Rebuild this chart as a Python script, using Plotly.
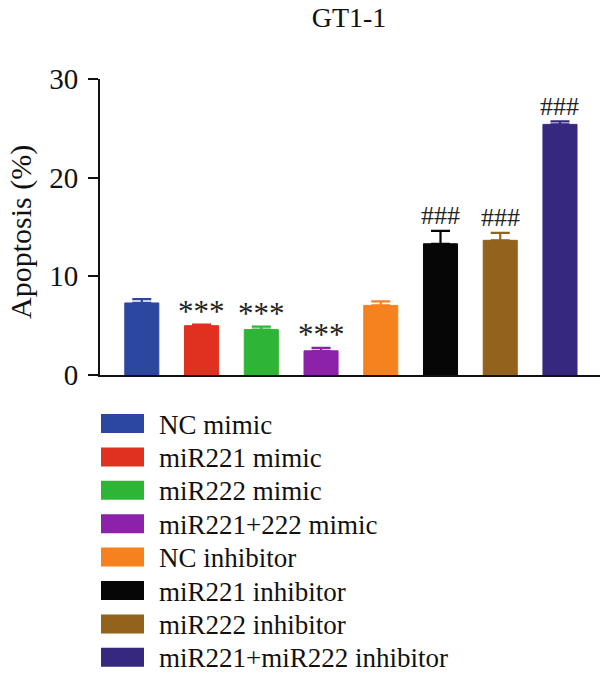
import plotly.graph_objects as go

categories = ["NC mimic", "miR221 mimic", "miR222 mimic", "miR221+222 mimic",
              "NC inhibitor", "miR221 inhibitor", "miR222 inhibitor", "miR221+miR222 inhibitor"]
values = [7.3, 5.0, 4.6, 2.45, 7.05, 13.3, 13.65, 25.4]
errors = [0.4, 0.12, 0.3, 0.3, 0.42, 1.3, 0.75, 0.3]
marks = ["", "***", "***", "***", "", "###", "###", "###"]
colors = ["#2B47A0", "#E0301F", "#2FB535", "#8B22A9", "#F5821F", "#060606", "#93631D", "#37287F"]
y_ticks = [0, 10, 20, 30]

FONT = "Liberation Serif"
W, H = 600, 675
L, R, T, B = 100, 0, 79, 300
pw, ph = W - L - R, H - T - B

def px2x(px):
    return (px - L) / pw

def py2y(py):
    return (H - B - py) / ph

fig = go.Figure()
xs = list(range(len(categories)))
fig.add_trace(go.Bar(
    x=xs, y=values, width=0.57,
    marker=dict(color=colors, line=dict(color=colors, width=1)),
    showlegend=False,
))
for i in xs:
    fig.add_trace(go.Scatter(
        x=[i], y=[values[i]], mode="markers", marker=dict(size=0.1, color="rgba(0,0,0,0)"),
        error_y=dict(type="data", symmetric=False, array=[errors[i]], arrayminus=[0],
                     color=colors[i], thickness=2.2, width=9.5),
        showlegend=False, hoverinfo="skip",
    ))

for i in xs:
    if marks[i]:
        star = marks[i].startswith("*")
        fig.add_annotation(x=i, y=values[i] + errors[i], text=marks[i], showarrow=False,
                           yanchor="middle", yshift=13 if star else 15,
                           font=dict(family=FONT, size=31 if star else 26, color="#222"))

# legend drawn manually
row0, step = 423.5, 33.4
for i, (name, c) in enumerate(zip(categories, colors)):
    cy = row0 + i * step
    fig.add_shape(type="rect", xref="paper", yref="paper",
                  x0=px2x(101), x1=px2x(144), y0=py2y(cy - 9.5), y1=py2y(cy + 9.5),
                  fillcolor=c, line=dict(width=0))
    fig.add_annotation(xref="paper", yref="paper", x=px2x(157), y=py2y(cy + 1),
                       text=name, showarrow=False, xanchor="left", yanchor="middle",
                       font=dict(family=FONT, size=27, color="#111"))

# y-axis title
fig.add_annotation(xref="paper", yref="paper", x=px2x(21), y=py2y(232), text="Apoptosis (%)",
                   textangle=-90, showarrow=False, xanchor="center", yanchor="middle",
                   font=dict(family=FONT, size=30, color="#111"))

fig.update_layout(
    width=W, height=H, margin=dict(l=L, r=R, t=T, b=B),
    paper_bgcolor="white", plot_bgcolor="white",
    title=dict(text="GT1-1", x=349 / W, xanchor="center", y=1 - 17 / H, yanchor="middle",
               font=dict(family=FONT, size=28, color="#111")),
    xaxis=dict(range=[-0.70, 7.67], showticklabels=False, ticks="", showgrid=False, zeroline=False,
               showline=True, linecolor="#111", linewidth=2),
    yaxis=dict(range=[0, 30], tickvals=y_ticks, ticks="outside", ticklen=10, tickwidth=2, tickcolor="#111",
               showgrid=False, zeroline=False, showline=True, linecolor="#111", linewidth=2,
               ticklabelstandoff=4,
               tickfont=dict(family=FONT, size=29, color="#111")),
)

fig.write_html("out.html")
